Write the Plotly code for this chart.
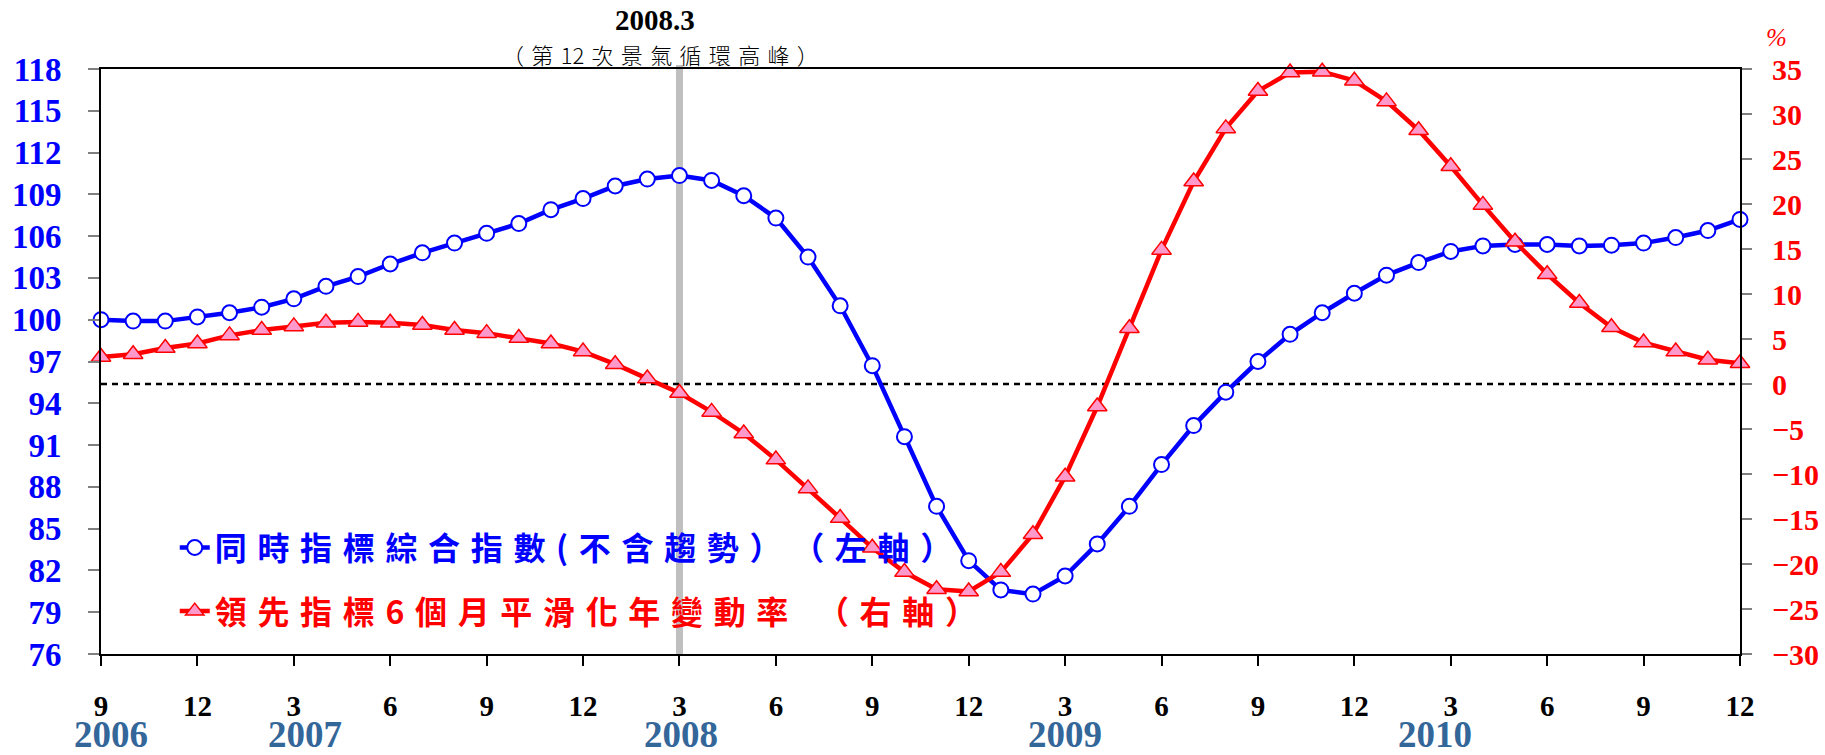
import plotly.graph_objects as go

# ---- data ----
months = [f"{y}.{m}" for y in range(2006, 2011) for m in range(1, 13) if (y, m) >= (2006, 9)]

coincident = [100.0, 99.9, 99.9, 100.2, 100.5, 100.9, 101.5, 102.4, 103.1, 104.0,
              104.8, 105.5, 106.2, 106.9, 107.9, 108.7, 109.6, 110.1, 110.35, 110.0,
              108.9, 107.3, 104.5, 101.0, 96.7, 91.6, 86.6, 82.7, 80.6, 80.3,
              81.6, 83.9, 86.6, 89.6, 92.4, 94.8, 97.0, 98.95, 100.5, 101.9,
              103.2, 104.1, 104.9, 105.3, 105.4, 105.4, 105.3, 105.35, 105.5, 105.9,
              106.4, 107.2]

leading = [3.0, 3.3, 4.0, 4.5, 5.4, 6.0, 6.4, 6.8, 6.9, 6.8,
           6.55, 6.0, 5.65, 5.1, 4.5, 3.6, 2.2, 0.6, -1.0, -3.1,
           -5.5, -8.4, -11.6, -14.9, -18.2, -20.9, -22.8, -23.05, -20.9, -16.7,
           -10.3, -2.5, 6.2, 14.9, 22.5, 28.4, 32.55, 34.6, 34.7, 33.7,
           31.4, 28.2, 24.2, 19.9, 15.8, 12.2, 9.0, 6.3, 4.6, 3.6,
           2.7, 2.3]

tick_vals = months[::3]
tick_text = ["9", "12", "3", "6", "9", "12", "3", "6", "9", "12", "3", "6", "9", "12", "3", "6", "9", "12"]

year_labels = ["2006", "2007", "2008", "2009", "2010"]
year_pos = [0.3, 6.35, 18.05, 30.0, 41.5]

left_ticks = list(range(76, 119, 3))
right_ticks = list(range(-30, 36, 5))

peak_month = "2008.3"
name_coin = "同時指標綜合指數(不含趨勢）（左軸）"
name_lead = "領先指標6個月平滑化年變動率 （右軸）"
peak_note = "（第12次景氣循環高峰）"

SERIF = "Liberation Serif, Times New Roman, serif"
CJK = "Noto Sans CJK TC, Noto Sans CJK SC, sans-serif"
SP = "\u2004"

def spaced(s, sep=SP):
    out = ""
    for i, ch in enumerate(s):
        out += ch
        if i < len(s) - 1 and not (ch.isdigit() and s[i + 1].isdigit()):
            out += sep
    return out

peak_idx = months.index(peak_month)

fig = go.Figure()

fig.add_trace(go.Scatter(
    x=months, y=coincident,
    name=f'<span style="color:#0000FF">{spaced(name_coin)}</span>', mode="lines+markers",
    line=dict(color="#0000FF", width=4.5),
    marker=dict(symbol="circle", size=15, color="#FFFFFF", line=dict(color="#0000FF", width=2)),
    cliponaxis=False, legendgroup="a", yaxis="y"))

fig.add_trace(go.Scatter(
    x=months, y=leading,
    name=f'<span style="color:#FF0000">{spaced(name_lead)}</span>', mode="lines+markers",
    line=dict(color="#FF0000", width=4.5),
    marker=dict(symbol="triangle-up", size=17, color="#FF99CC", line=dict(color="#FF0000", width=1.5)),
    cliponaxis=False, legendgroup="b", yaxis="y2"))

# vertical peak line
fig.add_shape(type="line", xref="x", yref="paper", x0=peak_idx, x1=peak_idx, y0=0, y1=1.007,
              line=dict(color="#BFBFBF", width=7), layer="below")
# zero line (right axis)
fig.add_shape(type="line", xref="paper", yref="y2", x0=0, x1=1, y0=0, y1=0,
              line=dict(color="#000000", width=2.5, dash="6px,5px"), layer="below")

annotations = [
    dict(text="<b>2008.3</b>", x=17.25, xref="x", y=1.084, yref="paper", showarrow=False,
         font=dict(family=SERIF, size=29, color="#000000"), xanchor="center", yanchor="middle"),
    dict(text=spaced(peak_note), x=17.4, xref="x", y=1.026, yref="paper",
         showarrow=False, font=dict(family=CJK, size=22, color="#000000", weight=300),
         xanchor="center", yanchor="middle"),
    dict(text="<i>%</i>", x=1.022, xref="paper", y=1.053, yref="paper", showarrow=False,
         font=dict(family=SERIF, size=25, color="#FF0000"), xanchor="center", yanchor="middle"),
]
for lbl, pos in zip(year_labels, year_pos):
    annotations.append(dict(text=f"<b>{lbl}</b>", x=pos, xref="x", y=-0.138, yref="paper",
                            showarrow=False, font=dict(family=SERIF, size=37, color="#336699"),
                            xanchor="center", yanchor="middle"))

fig.update_layout(
    width=1825, height=755,
    margin=dict(l=101, r=85, t=69, b=101, autoexpand=False),
    paper_bgcolor="#FFFFFF", plot_bgcolor="#FFFFFF",
    showlegend=True,
    legend=dict(x=0.045, y=0.127, xanchor="left", yanchor="middle",
                bgcolor="rgba(0,0,0,0)", tracegroupgap=19, traceorder="grouped",
                font=dict(family=CJK, size=32, weight="bold")),
    xaxis=dict(type="category", range=[0, 51], tickmode="array", tickvals=tick_vals, ticktext=tick_text,
               ticks="outside", ticklen=10, tickwidth=1.5, tickcolor="#000000", automargin=False,
               showline=True, linecolor="#000000", linewidth=2, mirror=True,
               showgrid=False, zeroline=False, ticklabelstandoff=15,
               tickfont=dict(family=SERIF, size=29, color="#000000", weight="bold")),
    yaxis=dict(range=[76, 118], tickmode="array", tickvals=left_ticks, automargin=False,
               ticks="outside", ticklen=11, tickwidth=1.5, tickcolor="#808080",
               showline=True, linecolor="#000000", linewidth=2,
               showgrid=False, zeroline=False, ticklabelstandoff=20,
               tickfont=dict(family=SERIF, size=33, color="#0000FF", weight="bold")),
    yaxis2=dict(range=[-30, 35], tickmode="array", tickvals=right_ticks, overlaying="y", side="right",
                ticks="outside", ticklen=10, tickwidth=1.5, tickcolor="#808080", automargin=False,
                showline=True, linecolor="#000000", linewidth=2,
                showgrid=False, zeroline=False, ticklabelstandoff=14,
                tickfont=dict(family=SERIF, size=30, color="#FF0000", weight="bold")),
    annotations=annotations,
)

# remove the default page margin so the figure fills the window exactly
fig.write_html("out.html", config={"displayModeBar": False},
               post_script="document.body.style.margin='0';document.body.style.overflow='hidden';")
